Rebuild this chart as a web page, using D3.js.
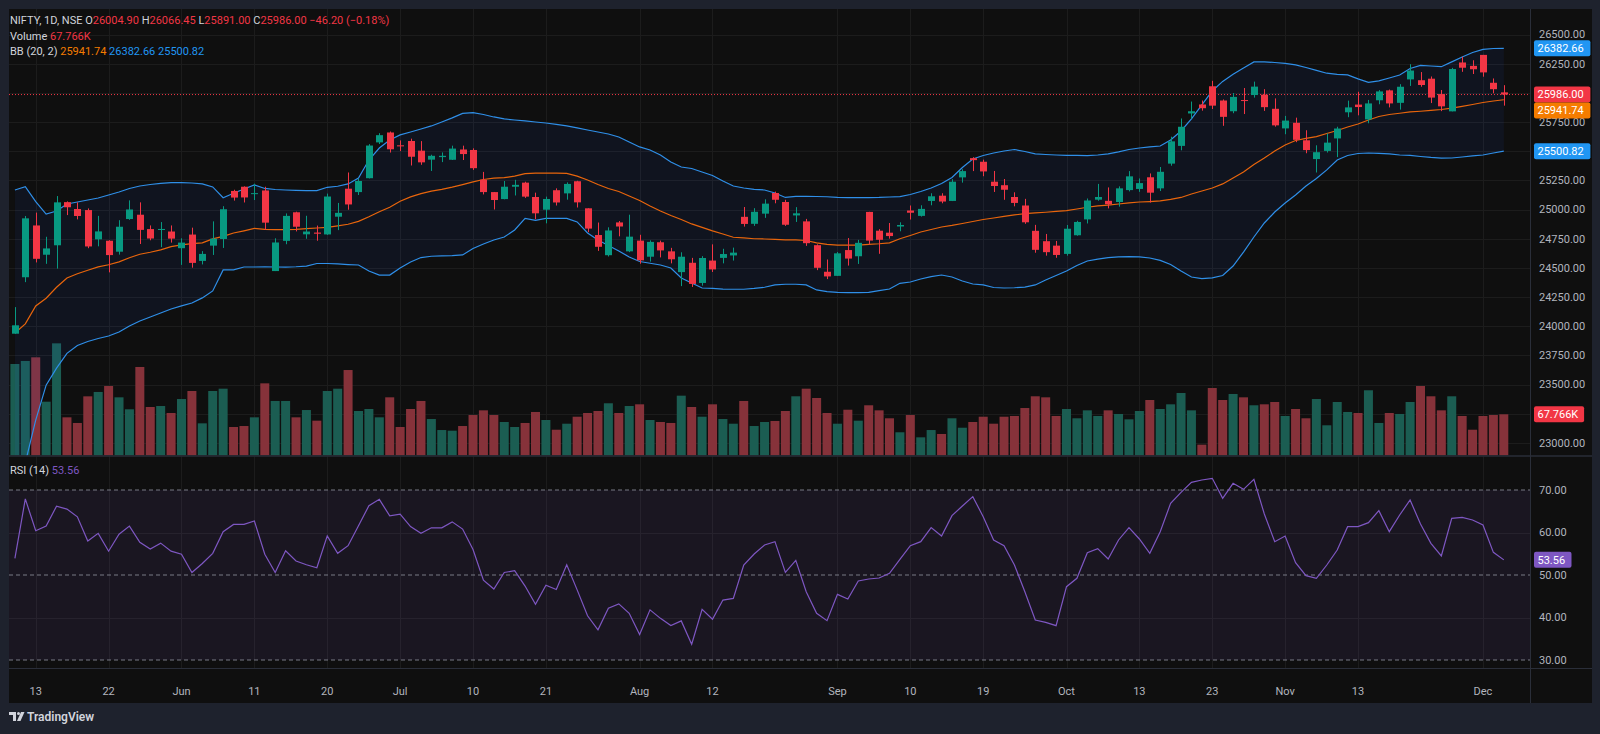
<!DOCTYPE html>
<html><head><meta charset="utf-8">
<script src="https://cdn.jsdelivr.net/npm/d3@7"></script>
<style>
html,body{margin:0;padding:0;background:#1e222d;}
svg{display:block;font-family:Roboto,"Noto Sans","DejaVu Sans",sans-serif;}
</style></head>
<body>
<svg id="c" width="1600" height="734"></svg>
<script>
// ---------------- DATA ----------------
const dates = [
"2025-05-09","2025-05-12","2025-05-13","2025-05-14","2025-05-15","2025-05-16","2025-05-19","2025-05-20","2025-05-21","2025-05-22","2025-05-23","2025-05-26","2025-05-27","2025-05-28","2025-05-29","2025-05-30",
"2025-06-02","2025-06-03","2025-06-04","2025-06-05","2025-06-06","2025-06-09","2025-06-10","2025-06-11","2025-06-12","2025-06-13","2025-06-16","2025-06-17","2025-06-18","2025-06-19","2025-06-20","2025-06-23","2025-06-24","2025-06-25","2025-06-26","2025-06-27","2025-06-30",
"2025-07-01","2025-07-02","2025-07-03","2025-07-04","2025-07-07","2025-07-08","2025-07-09","2025-07-10","2025-07-11","2025-07-14","2025-07-15","2025-07-16","2025-07-17","2025-07-18","2025-07-21","2025-07-22","2025-07-23","2025-07-24","2025-07-25","2025-07-28","2025-07-29","2025-07-30","2025-07-31",
"2025-08-01","2025-08-04","2025-08-05","2025-08-06","2025-08-07","2025-08-08","2025-08-11","2025-08-12","2025-08-13","2025-08-14","2025-08-18","2025-08-19","2025-08-20","2025-08-21","2025-08-22","2025-08-25","2025-08-26","2025-08-28","2025-08-29",
"2025-09-01","2025-09-02","2025-09-03","2025-09-04","2025-09-05","2025-09-08","2025-09-09","2025-09-10","2025-09-11","2025-09-12","2025-09-15","2025-09-16","2025-09-17","2025-09-18","2025-09-19","2025-09-22","2025-09-23","2025-09-24","2025-09-25","2025-09-26","2025-09-29","2025-09-30",
"2025-10-01","2025-10-03","2025-10-06","2025-10-07","2025-10-08","2025-10-09","2025-10-10","2025-10-13","2025-10-14","2025-10-15","2025-10-16","2025-10-17","2025-10-20","2025-10-21","2025-10-23","2025-10-24","2025-10-27","2025-10-28","2025-10-29","2025-10-30","2025-10-31",
"2025-11-03","2025-11-04","2025-11-06","2025-11-07","2025-11-10","2025-11-11","2025-11-12","2025-11-13","2025-11-14","2025-11-17","2025-11-18","2025-11-19","2025-11-20","2025-11-21","2025-11-24","2025-11-25","2025-11-26","2025-11-27","2025-11-28",
"2025-12-01","2025-12-02","2025-12-03"];

const open = [23936,24420,24864,24613,24694,25064,25005,24996,24745,24733,24639,24919,24956,24833,24825,24812,
24669,24786,24560,24691,24748,25160,25196,25135,25164,24473,24732,24977,24788,24803,24787,24939,25179,25150,25269,25576,25661,
25551,25588,25505,25428,25450,25427,25515,25511,25256,25150,25090,25196,25231,25108,24999,25166,25139,25243,25011,24782,24609,24890,24642,
24734,24596,24720,24642,24464,24544,24371,24563,24586,24607,24938,24878,24965,25142,25065,24950,24899,24695,24467,
24432,24653,24600,24980,24819,24802,24855,24992,24946,25074,25119,25074,25276,25441,25410,25239,25209,25108,25035,24818,24729,24691,
24620,24780,24916,25085,25075,25065,25167,25177,25277,25182,25394,25546,25824,25901,26057,25935,25843,25939,25982,25985,25864,
25696,25744,25594,25433,25503,25610,25834,25900,25773,25937,26022,25915,26116,26109,26122,25990,25842,26261,26232,
26326,26087,26004.90];
const high = [24164,24945,24974,24767,25116,25070,25062,25010,24946,24737,24909,25079,25062,24864,24893,24864,
24754,24845,24644,24899,25029,25170,25199,25222,25196,24754,24967,24982,24947,24863,25137,25057,25318,25266,25561,25655,25669,
25593,25608,25587,25470,25490,25548,25548,25525,25323,25151,25245,25255,25239,25145,25111,25182,25233,25247,25011,24889,24848,24902,24956,
24784,24736,24734,24672,24634,24586,24601,24702,24664,24674,25022,25012,25088,25154,25084,25021,24920,24702,24572,
24636,24756,24740,24981,24832,24885,24891,25035,25037,25140,25140,25261,25346,25449,25428,25331,25262,25148,25092,24869,24791,24731,
24868,24904,25095,25220,25190,25199,25330,25267,25310,25365,25625,25781,25926,25935,26104,25944,25999,26042,26097,26032,25953,
25803,25788,25680,25551,25653,25710,25934,26010,25940,26024,26029,26075,26246,26179,26141,26025,26215,26310,26280,
26326,26124,26066.45];
const low = [23935,24378,24547,24535,24494,24953,24916,24669,24685,24462,24614,24912,24705,24737,24678,24717,
24526,24502,24530,24611,24671,25077,25061,25082,24825,24473,24703,24813,24750,24733,24783,24824,24999,25125,25267,25562,25489,
25501,25378,25384,25331,25407,25425,25425,25340,25130,25001,25088,25121,25100,24918,24882,25035,25085,25018,24806,24646,24598,24771,24635,
24536,24554,24590,24539,24344,24337,24348,24465,24539,24563,24854,24860,24929,25054,24860,24894,24689,24481,24404,
24432,24520,24534,24700,24621,24751,24814,24915,24940,25037,25054,25073,25231,25330,25286,25151,25084,25028,24878,24630,24605,24587,
24605,24776,24881,25076,25010,25025,25156,25152,25060,25159,25376,25508,25781,25848,25862,25718,25826,25819,25960,25846,25711,
25646,25578,25483,25318,25489,25450,25792,25808,25740,25903,25876,25857,26060,26053,25913,25844,25842,26181,26162,
26139,25997,25891.00];
const close = [24008,24925,24578,24667,25062,25020,24945,24684,24813,24610,24853,25001,24826,24752,24834,24751,
24717,24543,24620,24751,25003,25103,25104,25141,24888,24718,24946,24853,24812,24793,25112,24972,25044,25245,25549,25638,25517,
25542,25453,25405,25461,25461,25523,25476,25355,25150,25082,25196,25212,25111,24968,25091,25061,25220,25062,24837,24681,24821,24855,24768,
24565,24723,24650,24574,24596,24363,24585,24487,24619,24631,24877,24981,25051,25084,24870,24968,24712,24501,24427,
24625,24580,24715,24734,24741,24773,24868,24973,25006,25114,25069,25239,25330,25424,25327,25202,25170,25057,24891,24655,24635,24611,
24836,24894,25078,25108,25046,25182,25285,25227,25145,25324,25585,25710,25843,25869,25891,25795,25966,25936,26054,25878,25722,
25763,25598,25510,25492,25574,25695,25876,25879,25910,26013,25910,26053,26192,26068,25960,25885,26205,26216,26203,
26176,26032,25986.00];

// Volume in thousands
const volume = [150.5,155.5,161.5,88.5,184.5,62.8,53.5,97.3,104.5,114.3,95.7,76.0,145.6,79.8,81.4,69.9,92.9,106.1,52.9,106.1,
109.9,46.9,48.5,62.8,118.7,89.7,89.7,62.8,74.8,57.3,106.1,109.9,140.6,73.2,76.5,62.8,95.7,46.9,76.5,89.7,
60.0,41.9,40.8,48.5,66.6,74.3,66.6,55.1,46.9,53.5,71.6,58.4,42.4,52.3,63.8,69.9,73.2,85.9,69.9,81.4,
84.2,58.4,55.1,53.5,98.4,79.8,63.8,84.2,60.0,52.3,89.7,48.5,55.1,56.8,73.2,97.4,109.9,94.6,69.9,52.3,
75.3,57.3,82.6,74.3,61.2,38.2,66.6,29.9,41.9,35.4,61.2,45.7,55.1,63.8,52.3,63.8,65.0,78.1,97.4,95.7,
65.0,76.5,61.2,74.3,65.0,74.3,68.3,59.5,73.2,91.3,76.5,84.2,102.8,74.3,17.8,111.0,91.3,101.2,95.7,82.6,
84.2,88.0,65.0,76.5,61.2,92.9,49.7,88.0,71.6,69.9,107.3,53.5,69.9,68.3,88.0,114.3,97.4,74.3,97.4,65.0,
42.4,65.0,66.6,67.766];

// Bollinger Bands (20, 2)
const bbUpper = [25168,25196,25068,24962,24988,25048,25065,25082,25099,25125,25151,25181,25202,25215,25224,25231,25231,25228,25220,25194,
25102,25140,25177,25211,25181,25172,25168,25165,25162,25162,25191,25200,25220,25271,25425,25528,25597,25640,25665,25691,
25717,25751,25786,25824,25831,25815,25794,25777,25768,25760,25751,25742,25730,25717,25700,25682,25665,25648,25622,25580,
25537,25511,25468,25408,25365,25352,25322,25292,25245,25202,25185,25174,25168,25142,25104,25114,25114,25112,25110,25104,
25102,25102,25102,25104,25108,25111,25129,25155,25185,25224,25275,25361,25434,25464,25485,25502,25515,25498,25477,25472,
25468,25465,25464,25463,25468,25477,25494,25515,25528,25537,25545,25597,25674,25777,25897,26017,26099,26160,26214,26266,
26266,26261,26253,26240,26218,26193,26169,26159,26154,26120,26090,26103,26128,26154,26210,26236,26231,26225,26266,26308,
26347,26373,26381,26382.66];
const bbBasis = [23942,24020,24174,24240,24334,24414,24450,24480,24509,24527,24552,24587,24617,24634,24655,24683,24698,24708,24715,24749,
24771,24799,24818,24839,24831,24828,24828,24831,24837,24842,24848,24861,24874,24899,24938,24981,25020,25072,25109,25137,
25158,25173,25192,25214,25238,25258,25270,25274,25287,25308,25313,25313,25313,25310,25287,25254,25215,25181,25155,25117,
25078,25031,24988,24949,24915,24877,24847,24817,24791,24763,24757,24750,24748,24744,24740,24740,24735,24714,24701,24696,
24696,24696,24701,24707,24715,24750,24778,24808,24829,24851,24864,24881,24898,24915,24928,24941,24954,24965,24971,24977,
24984,24991,25005,25020,25031,25039,25048,25058,25065,25069,25074,25087,25104,25134,25159,25185,25220,25271,25322,25387,
25442,25502,25554,25592,25610,25625,25652,25678,25708,25734,25768,25798,25815,25826,25837,25843,25850,25858,25869,25884,
25901,25918,25931,25941.74];
const bbLower = [22420,22830,23195,23495,23641,23768,23835,23869,23895,23916,23951,24002,24045,24079,24114,24148,24174,24199,24243,24303,
24483,24483,24508,24508,24510,24508,24506,24510,24516,24538,24538,24534,24529,24525,24473,24439,24439,24499,24551,24589,
24600,24604,24606,24611,24666,24705,24739,24765,24825,24925,24907,24924,24925,24925,24894,24799,24739,24692,24645,24594,
24555,24540,24525,24499,24414,24371,24328,24325,24319,24317,24317,24324,24334,24354,24360,24360,24354,24311,24296,24291,
24288,24289,24291,24306,24319,24368,24379,24405,24426,24439,24422,24388,24362,24354,24332,24328,24330,24336,24354,24397,
24435,24474,24521,24559,24576,24589,24595,24596,24594,24585,24564,24529,24474,24422,24409,24414,24435,24516,24636,24765,
24885,24979,25057,25125,25202,25266,25340,25425,25464,25481,25485,25481,25477,25468,25464,25455,25447,25441,25442,25451,
25460,25468,25485,25500.82];

// RSI (14)
const rsi = [53.9,67.9,60.4,61.5,66.2,65.5,63.7,58.0,59.8,55.6,59.6,61.5,57.7,56.1,57.5,55.6,54.9,50.6,52.7,55.1,
60.2,61.9,61.9,62.7,54.9,50.6,55.7,53.3,52.4,51.7,59.2,55.1,56.9,61.6,66.3,67.8,63.9,64.3,61.4,59.8,
61.1,61.1,62.5,60.8,56.0,48.8,46.7,50.6,51.0,47.4,43.1,47.6,46.6,52.4,46.5,40.4,37.1,42.2,43.2,41.0,
36.0,41.8,39.8,38.1,39.2,33.7,41.9,39.6,44.1,44.5,52.35,54.94,57.06,57.84,50.63,53.45,46.08,40.98,39.25,45.45,
44.35,48.59,49.06,49.29,50.39,53.69,56.90,57.84,61.14,59.18,63.96,66.24,68.43,63.73,58.24,56.90,52.35,46.08,39.41,38.86,
38.08,47.25,49.22,55.25,56.20,53.76,58.24,61.14,58.47,55.10,60.20,66.86,69.45,71.80,72.35,72.75,68.04,71.57,70.16,72.51,
64.35,57.84,59.18,52.90,49.84,49.22,52.35,55.88,61.37,61.37,62.31,65.14,60.20,64.12,67.65,62.00,57.45,54.47,63.33,63.57,
62.94,61.76,55.33,53.56];

const timeTickDates  = ["2025-05-13","2025-05-22","2025-06-02","2025-06-11","2025-06-20","2025-07-01","2025-07-10","2025-07-21","2025-08-01","2025-08-12","2025-09-01","2025-09-10","2025-09-19","2025-10-01","2025-10-13","2025-10-23","2025-11-03","2025-11-13","2025-12-01"];
const timeTickLabels = ["13","22","Jun","11","20","Jul","10","21","Aug","12","Sep","10","19","Oct","13","23","Nov","13","Dec"];
const priceTicks = [23000,23250,23500,23750,24000,24250,24500,24750,25000,25250,25500,25750,26000,26250,26500];
const rsiTicks = [30,40,50,60,70];
const rsiLevels = [30,50,70];

const legendSymbol = "NIFTY, 1D, NSE";
const lastChange = "\u221246.20 (\u22120.18%)";

// ---------------- LAYOUT ----------------
const W = 1600, H = 734;
const paneL = 9, paneR = 1530, axisR = 1592;
const priceT = 9, priceB = 455.5;
const rsiT = 456.5, rsiB = 668;
const timeB = 703;

const COL = {
  frame:"#1e222d", bg:"#0f0f0f", grid:"#1c1c1c", sep:"#2a2e39",
  up:"#089981", down:"#f23645", volUp:"#1b5d52", volDown:"#86323a",
  bbLine:"#2f8fe8", bbFill:"rgba(41,98,255,0.07)", basis:"#e8650c",
  rsi:"#7e57c2", rsiFill:"rgba(126,87,194,0.10)", text:"#b2b5be", legend:"#d1d4dc"
};

const svg = d3.select("#c");
svg.append("rect").attr("width",W).attr("height",H).attr("fill",COL.frame);
svg.append("rect").attr("x",paneL).attr("y",priceT).attr("width",axisR-paneL).attr("height",timeB-priceT).attr("fill",COL.bg);

const n = close.length;
const x = d3.scaleLinear().domain([0, n-1]).range([14.9, 1503.8]);
const y = d3.scaleLinear().domain([23000, 26500]).range([442.9, 34.6]);
const yv = d3.scaleLinear().domain([0, 67.766]).range([priceB, 414.3]);
const yr = d3.scaleLinear().domain([30, 70]).range([660, 490]);

const defs = svg.append("defs");
defs.append("clipPath").attr("id","cp").append("rect").attr("x",paneL).attr("y",priceT).attr("width",paneR-paneL).attr("height",priceB-priceT);
defs.append("clipPath").attr("id","cr").append("rect").attr("x",paneL).attr("y",rsiT).attr("width",paneR-paneL).attr("height",rsiB-rsiT);

const tickIdx = timeTickDates.map(d => dates.indexOf(d));

// ---------- grid ----------
const grid = svg.append("g");
tickIdx.forEach(i => {
  const xx = Math.round(x(i)) + 0.5;
  grid.append("line").attr("x1",xx).attr("x2",xx).attr("y1",priceT).attr("y2",priceB).attr("stroke",COL.grid);
  grid.append("line").attr("x1",xx).attr("x2",xx).attr("y1",rsiT).attr("y2",rsiB).attr("stroke",COL.grid);
});
priceTicks.forEach(t => {
  const yy = Math.round(y(t)) + 0.5;
  grid.append("line").attr("x1",paneL).attr("x2",paneR).attr("y1",yy).attr("y2",yy).attr("stroke",COL.grid);
});
[40,60].forEach(t => {
  const yy = Math.round(yr(t)) + 0.5;
  grid.append("line").attr("x1",paneL).attr("x2",paneR).attr("y1",yy).attr("y2",yy).attr("stroke",COL.grid);
});

// ---------- price pane ----------
const gp = svg.append("g").attr("clip-path","url(#cp)");

// volume
gp.selectAll("rect.vol").data(volume).join("rect")
  .attr("x",(d,i)=>x(i)-4.5).attr("width",9)
  .attr("y",d=>yv(d)).attr("height",d=>priceB-yv(d))
  .attr("fill",(d,i)=> close[i] >= open[i] ? COL.volUp : COL.volDown);

// BB fill + lines
const idx = d3.range(n);
gp.append("path").datum(idx)
  .attr("d", d3.area().x(i=>x(i)).y0(i=>y(bbLower[i])).y1(i=>y(bbUpper[i])))
  .attr("fill",COL.bbFill);
const line = arr => d3.line().x(i=>x(i)).y(i=>y(arr[i]));
gp.append("path").datum(idx).attr("d",line(bbUpper)).attr("fill","none").attr("stroke",COL.bbLine).attr("stroke-width",1.2);
gp.append("path").datum(idx).attr("d",line(bbLower)).attr("fill","none").attr("stroke",COL.bbLine).attr("stroke-width",1.2);
gp.append("path").datum(idx).attr("d",line(bbBasis)).attr("fill","none").attr("stroke",COL.basis).attr("stroke-width",1.2);

// price line (last close)
gp.append("line").attr("x1",paneL).attr("x2",paneR)
  .attr("y1",y(close[n-1])).attr("y2",y(close[n-1]))
  .attr("stroke",COL.down).attr("stroke-width",1).attr("stroke-dasharray","1,2");

// candles
const cg = gp.append("g");
idx.forEach(i => {
  const c = close[i] >= open[i] ? COL.up : COL.down;
  const cx = Math.round(x(i)) + 0.5;
  cg.append("line").attr("x1",cx).attr("x2",cx).attr("y1",y(high[i])).attr("y2",y(low[i])).attr("stroke",c).attr("stroke-width",1);
  const top = y(Math.max(open[i], close[i])), bot = y(Math.min(open[i], close[i]));
  cg.append("rect").attr("x",cx-3.5).attr("width",7).attr("y",top).attr("height",Math.max(1,bot-top)).attr("fill",c);
});

// ---------- RSI pane ----------
const gr = svg.append("g").attr("clip-path","url(#cr)");
gr.append("rect").attr("x",paneL).attr("width",paneR-paneL).attr("y",yr(70)).attr("height",yr(30)-yr(70)).attr("fill",COL.rsiFill);
rsiLevels.forEach(t => {
  gr.append("line").attr("x1",paneL).attr("x2",paneR).attr("y1",yr(t)).attr("y2",yr(t))
    .attr("stroke","#787b86").attr("stroke-width",1).attr("stroke-dasharray","4,3");
});
gr.append("path").datum(idx).attr("d", d3.line().x(i=>x(i)).y(i=>yr(rsi[i])))
  .attr("fill","none").attr("stroke",COL.rsi).attr("stroke-width",1.2);

// ---------- separators ----------
svg.append("line").attr("x1",paneL).attr("x2",axisR).attr("y1",456).attr("y2",456).attr("stroke",COL.sep).attr("stroke-width",1.5);
svg.append("line").attr("x1",paneL).attr("x2",axisR).attr("y1",rsiB+0.5).attr("y2",rsiB+0.5).attr("stroke",COL.sep);
svg.append("line").attr("x1",paneR+0.5).attr("x2",paneR+0.5).attr("y1",priceT).attr("y2",timeB).attr("stroke",COL.sep);

// ---------- value boxes (computed first so covered tick labels can be hidden) ----------
const yClose = y(close[n-1]);
let yBasis = y(bbBasis[n-1]);
if (yBasis - yClose < 16) yBasis = yClose + 16;
const priceBoxes = [
  {y:y(bbUpper[n-1]), fill:"#2196f3", label:bbUpper[n-1].toFixed(2)},
  {y:yClose, fill:COL.down, label:close[n-1].toFixed(2)},
  {y:yBasis, fill:"#f57c00", label:bbBasis[n-1].toFixed(2)},
  {y:y(bbLower[n-1]), fill:"#2196f3", label:bbLower[n-1].toFixed(2)},
  {y:yv(volume[n-1]), fill:COL.down, label:volume[n-1].toFixed(3)+"K"}
];
const rsiBoxes = [{y:yr(rsi[n-1]), fill:COL.rsi, label:rsi[n-1].toFixed(2)}];

// ---------- axes ----------
const ax = svg.append("g").attr("font-size",11).attr("fill",COL.text);
priceTicks.forEach(t => {
  const yy = y(t);
  if (priceBoxes.some(b => Math.abs(b.y - yy) < 11)) return;
  ax.append("text").attr("x",1539).attr("y",yy).attr("dy","0.35em").text(t.toFixed(2));
});
rsiTicks.forEach(t => {
  const yy = yr(t);
  if (rsiBoxes.some(b => Math.abs(b.y - yy) < 11)) return;
  ax.append("text").attr("x",1539).attr("y",yy).attr("dy","0.35em").text(t.toFixed(2));
});
tickIdx.forEach((i,k) => {
  ax.append("text").attr("x",x(i)).attr("y",691).attr("dy","0.35em").attr("text-anchor","middle").text(timeTickLabels[k]);
});

function box(b){
  const g = svg.append("g");
  g.append("rect").attr("x",1534).attr("y",b.y-8).attr("width",b.label.length*6.3+6).attr("height",16).attr("rx",2).attr("fill",b.fill);
  g.append("text").attr("x",1537.5).attr("y",b.y).attr("dy","0.35em").attr("font-size",11).attr("fill","#ffffff").text(b.label);
}
priceBoxes.forEach(box);
rsiBoxes.forEach(box);

// ---------- legends ----------
const lg = svg.append("g").attr("font-size",11);
const t1 = lg.append("text").attr("x",10).attr("y",20.5).attr("dy","0.35em");
t1.append("tspan").attr("fill",COL.legend).text(legendSymbol + " ");
[["O",open[n-1]],["H",high[n-1]],["L",low[n-1]],["C",close[n-1]]].forEach(([k,v]) => {
  t1.append("tspan").attr("fill",COL.legend).text(k);
  t1.append("tspan").attr("fill",COL.down).text(v.toFixed(2)+" ");
});
t1.append("tspan").attr("fill",COL.down).text(lastChange);

const t2 = lg.append("text").attr("x",10).attr("y",35.8).attr("dy","0.35em");
t2.append("tspan").attr("fill",COL.legend).text("Volume ");
t2.append("tspan").attr("fill",COL.down).text(volume[n-1].toFixed(3)+"K");

const t3 = lg.append("text").attr("x",10).attr("y",51).attr("dy","0.35em");
t3.append("tspan").attr("fill",COL.legend).text("BB (20, 2) ");
t3.append("tspan").attr("fill","#f57c00").text(bbBasis[n-1].toFixed(2)+" ");
t3.append("tspan").attr("fill","#2196f3").text(bbUpper[n-1].toFixed(2)+" ");
t3.append("tspan").attr("fill","#2196f3").text(bbLower[n-1].toFixed(2));

const t4 = lg.append("text").attr("x",10).attr("y",470).attr("dy","0.35em");
t4.append("tspan").attr("fill",COL.legend).text("RSI (14) ");
t4.append("tspan").attr("fill",COL.rsi).text(rsi[n-1].toFixed(2));

// ---------- TradingView mark ----------
const tv = svg.append("g").attr("transform","translate(9,712)");
tv.append("path").attr("d","M0 0 H7 V9 H4 V3 H0 Z").attr("fill","#d1d4dc");
tv.append("circle").attr("cx",9.5).attr("cy",1.5).attr("r",1.5).attr("fill","#d1d4dc");
tv.append("path").attr("d","M12 0 H15.5 L11.5 9 H8 Z").attr("fill","#d1d4dc");
tv.append("text").attr("x",18).attr("y",5).attr("dy","0.35em").attr("font-size",12).attr("font-weight",600).attr("fill","#d1d4dc").text("TradingView");
</script>
</body></html>
